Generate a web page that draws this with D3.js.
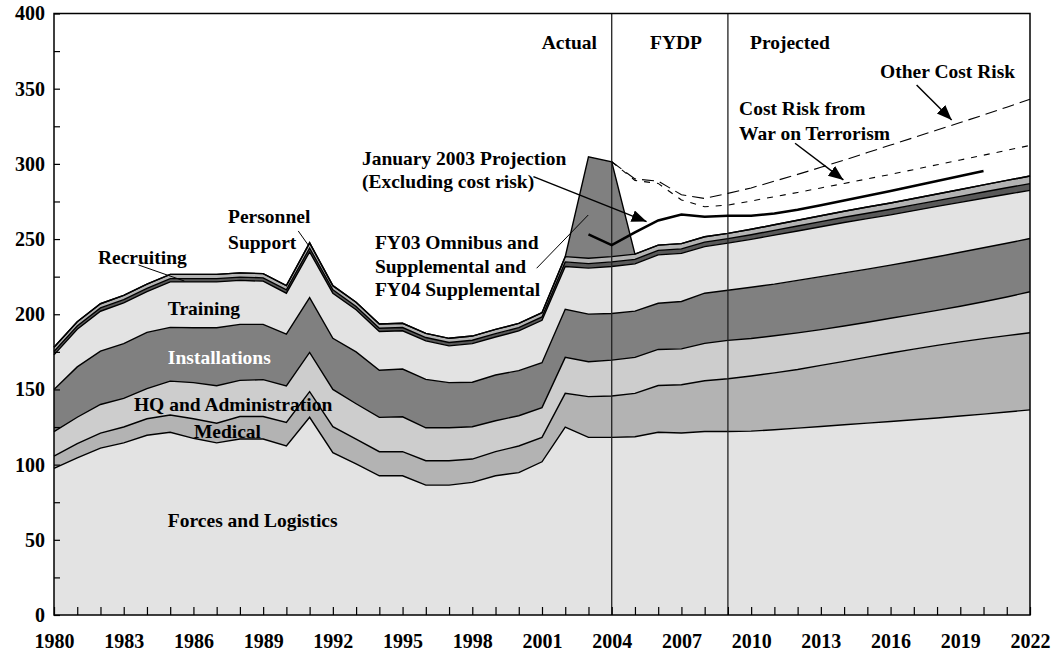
<!DOCTYPE html>
<meta charset="utf-8">
<script src="https://d3js.org/d3.v7.min.js"></script>
<style>
  body { margin: 0; background: #fff; }
  text { font-family: "Liberation Serif", "Times New Roman", serif; font-weight: bold; }
</style>
<svg id="chart" width="1053" height="652"></svg>
<script>

// Fiscal years on the x axis
var years = [1980, 1981, 1982, 1983, 1984, 1985, 1986, 1987, 1988, 1989,
  1990, 1991, 1992, 1993, 1994, 1995, 1996, 1997, 1998, 1999,
  2000, 2001, 2002, 2003, 2004, 2005, 2006, 2007, 2008, 2009,
  2010, 2011, 2012, 2013, 2014, 2015, 2016, 2017, 2018, 2019,
  2020, 2021, 2022];

// Stacked layers (billions), bottom to top
var forces = [97.5, 104.5, 111, 114.5, 119.5, 121.5, 117.5, 114.5, 117, 117,
  112.5, 131.5, 108, 100.5, 92.6, 92.6, 86.4, 86.4, 88.2, 92.6,
  94.7, 101.9, 125, 118.1, 118.1, 118.5, 121.5, 121, 122, 122,
  122.3, 123.2, 124.3, 125.4, 126.5, 127.6, 128.7, 129.8, 131, 132.3,
  133.6, 135, 136.4];
var medical = [8.2, 9.5, 10, 10.5, 11, 11.5, 13, 13, 15, 15,
  15.5, 17, 17.2, 16.5, 16, 16, 16.2, 16.2, 15.5, 16,
  17.7, 16.2, 22.4, 27.1, 27.5, 28.9, 31.1, 32.1, 33.8, 35.1,
  36.6, 37.8, 39, 40.6, 42.2, 43.9, 45.5, 47, 48.3, 49.3,
  50.2, 50.8, 51.3];
var hqAdmin = [16.2, 17.5, 19, 19, 20, 22.5, 24, 25, 24, 24.5,
  24.3, 26.1, 24.8, 23.5, 22.8, 23.2, 21.9, 21.9, 21.5, 20.6,
  20.1, 19.8, 23.9, 23.2, 23.9, 23.9, 24, 23.9, 24.8, 25.5,
  25, 24.7, 24.3, 23.8, 23.5, 23.2, 23.1, 23.1, 23.3, 23.7,
  24.5, 25.7, 27.3];
var installations = [28.1, 33.5, 35.5, 36.5, 37.5, 35.8, 36.5, 38.5, 37.3, 36.8,
  34.5, 36.4, 34, 34.5, 31.4, 31.8, 32.2, 30, 29.6, 30.4,
  30, 29.9, 32, 31.7, 31, 30.8, 30.7, 31.5, 33.4, 33.4,
  34.1, 34.3, 34.9, 35.2, 35.3, 35.3, 35.4, 35.5, 35.6, 35.9,
  35.9, 35.7, 35.4];
var training = [23, 25, 26.5, 27, 27, 30.2, 30.5, 30.5, 29.2, 28.7,
  27.2, 30.5, 30, 28, 25.7, 25.4, 25.6, 24.5, 25.7, 25.3,
  26.4, 28.2, 28.5, 30.6, 31.3, 31.4, 32.2, 32, 31, 31.3,
  31.8, 32.6, 32.9, 33.2, 33.5, 33.6, 33.4, 33.5, 33.5, 33.2,
  32.9, 32.6, 32];
var recruiting = [2.2, 2.2, 2.2, 2.2, 2.2, 2.2, 2.2, 2.2, 2.2, 2.2,
  2.2, 2.5, 2.2, 2.2, 2.2, 2.2, 2.2, 2.2, 2.2, 2.2,
  2.2, 2.2, 3, 3, 3, 3, 3, 3, 3, 3,
  3.1, 3.2, 3.3, 3.4, 3.5, 3.6, 3.7, 3.8, 3.9, 4,
  4.2, 4.3, 4.5];
var personnel = [2.8, 2.8, 2.8, 2.8, 2.8, 2.8, 2.8, 2.8, 2.8, 2.8,
  2.8, 3.5, 2.8, 2.8, 2.8, 2.8, 2.8, 2.8, 2.8, 2.8,
  2.8, 2.8, 3.5, 3.5, 3.5, 3.5, 3.5, 3.5, 3.5, 3.5,
  3.6, 3.7, 3.8, 3.9, 4, 4.1, 4.2, 4.3, 4.4, 4.6,
  4.7, 4.9, 5];
var omnibus = [0, 0, 0, 0, 0, 0, 0, 0, 0, 0,
  0, 0, 0, 0, 0, 0, 0, 0, 0, 0,
  0, 0, 0, 67.5, 63, 0, 0, 0, 0, 0,
  0, 0, 0, 0, 0, 0, 0, 0, 0, 0,
  0, 0, 0];

// January 2003 projection (solid line)
var projYears = [2003, 2004, 2005, 2006, 2007, 2008, 2009, 2010, 2011, 2012,
  2013, 2014, 2015, 2016, 2017, 2018, 2019, 2020];
var projection = [253.1, 246, 254.4, 262.4, 266.3, 264.8, 265.5, 265.5, 267, 269.5,
  272.5, 275.7, 278.8, 282, 285.3, 288.6, 292, 295.2];

// Cost risk lines (dashed)
var riskYears = [2004, 2005, 2006, 2007, 2008, 2009, 2010, 2011, 2012, 2013,
  2014, 2015, 2016, 2017, 2018, 2019, 2020, 2021, 2022];
var otherRisk = [301.4, 290, 288.5, 279.5, 277, 280.4, 284, 288.5, 293, 297.7,
  302.5, 307.5, 312.5, 317.5, 322.5, 327.5, 332.5, 337.7, 343];
var warRisk = [301.4, 289, 287, 276, 271.5, 272.6, 275.3, 278.2, 281, 284,
  287, 290, 293, 296.2, 299.4, 302.6, 305.8, 309, 312.3];

var phaseBreaks = [2004, 2009];
var yTicks = [0, 50, 100, 150, 200, 250, 300, 350, 400];

var svg = d3.select("#chart");

var x = d3.scaleLinear().domain([1980, 2022]).range([54, 1030]);
var y = d3.scaleLinear().domain([0, 400]).range([615, 13.5]);

var keys = ["forces", "medical", "hq", "installations", "training", "recruiting", "personnel", "omnibus"];
var fills = {
  forces: "#e3e3e3", medical: "#b3b3b3", hq: "#cdcdcd", installations: "#808080",
  training: "#e3e3e3", recruiting: "#595959", personnel: "#b3b3b3", omnibus: "#808080"
};

var table = years.map(function(yr, i) {
  return {
    year: yr, forces: forces[i], medical: medical[i], hq: hqAdmin[i],
    installations: installations[i], training: training[i],
    recruiting: recruiting[i], personnel: personnel[i], omnibus: omnibus[i]
  };
});

var series = d3.stack().keys(keys)(table);

var area = d3.area()
  .x(function(d) { return x(d.data.year); })
  .y0(function(d) { return y(d[0]); })
  .y1(function(d) { return y(d[1]); });

var topLine = d3.line()
  .x(function(d) { return x(d.data.year); })
  .y(function(d) { return y(d[1]); });

// layers
svg.append("g")
  .selectAll("path")
  .data(series)
  .join("path")
    .attr("d", area)
    .attr("fill", function(d) { return fills[d.key]; });

// layer outlines
svg.append("g")
  .selectAll("path")
  .data(series)
  .join("path")
    .attr("d", topLine)
    .attr("fill", "none")
    .attr("stroke", "#000")
    .attr("stroke-width", 1.4);

// phase separators
svg.append("g")
  .selectAll("line")
  .data(phaseBreaks)
  .join("line")
    .attr("x1", function(d) { return x(d); })
    .attr("x2", function(d) { return x(d); })
    .attr("y1", y(400))
    .attr("y2", y(0))
    .attr("stroke", "#222")
    .attr("stroke-width", 1.3);

// cost risk + projection lines
var riskLine = d3.line()
  .x(function(d, i) { return x(riskYears[i]); })
  .y(function(d) { return y(d); });

svg.append("path")
  .attr("d", riskLine(otherRisk))
  .attr("fill", "none").attr("stroke", "#000")
  .attr("stroke-width", 1.1).attr("stroke-dasharray", "12,6");

svg.append("path")
  .attr("d", riskLine(warRisk))
  .attr("fill", "none").attr("stroke", "#000")
  .attr("stroke-width", 1.1).attr("stroke-dasharray", "6,7");

var projLine = d3.line()
  .x(function(d, i) { return x(projYears[i]); })
  .y(function(d) { return y(d); });

svg.append("path")
  .attr("d", projLine(projection))
  .attr("fill", "none").attr("stroke", "#000")
  .attr("stroke-width", 2.6);

// axes
var xAxis = d3.axisBottom(x)
  .tickValues(years)
  .tickSize(-8)
  .tickSizeOuter(0)
  .tickPadding(19)
  .tickFormat(function(d) { return (d - 1980) % 3 === 0 ? d : ""; });

svg.append("g")
  .attr("transform", "translate(0," + y(0) + ")")
  .call(xAxis)
  .call(function(g) {
    g.select(".domain").remove();
    g.selectAll("line").attr("stroke", "#000").attr("stroke-width", 1.2);
    g.selectAll("text").attr("font-size", 20).attr("fill", "#000")
      .attr("font-family", "Liberation Serif, Times New Roman, serif").attr("font-weight", "bold");
  });

var yAxis = d3.axisLeft(y)
  .tickValues(d3.range(0, 401, 25))
  .tickSize(-6)
  .tickSizeOuter(0)
  .tickPadding(9)
  .tickFormat(function(d) { return yTicks.indexOf(d) >= 0 ? d : ""; });

svg.append("g")
  .attr("transform", "translate(" + x(1980) + ",0)")
  .call(yAxis)
  .call(function(g) {
    g.select(".domain").remove();
    g.selectAll("line").attr("stroke", "#000").attr("stroke-width", 1.2);
    g.selectAll("text").attr("font-size", 20).attr("fill", "#000")
      .attr("font-family", "Liberation Serif, Times New Roman, serif").attr("font-weight", "bold");
  });

// frame
svg.append("rect")
  .attr("x", x(1980)).attr("y", y(400))
  .attr("width", x(2022) - x(1980)).attr("height", y(0) - y(400))
  .attr("fill", "none").attr("stroke", "#000").attr("stroke-width", 1.5);

// arrowhead
svg.append("defs").append("marker")
  .attr("id", "head")
  .attr("markerUnits", "userSpaceOnUse")
  .attr("markerWidth", 16).attr("markerHeight", 14)
  .attr("refX", 15).attr("refY", 6)
  .attr("orient", "auto")
  .append("path")
    .attr("d", "M0,0 L15,6 L0,12 Z")
    .attr("fill", "#000");

// annotation pointers, in data units [year, value]
var pointers = [
  { from: [1983.63, 232.8], to: [1985.61, 222.1], arrow: false },
  { from: [1990.51, 255.4], to: [1990.94, 246], arrow: false },
  { from: [2000.77, 230.6], to: [2002.99, 266], arrow: false },
  { from: [2000.63, 291.5], to: [2005.5, 261.6], arrow: true },
  { from: [2011.89, 313.7], to: [2013.97, 289.3], arrow: true },
  { from: [2017.12, 352.5], to: [2018.63, 329.2], arrow: true }
];

svg.append("g")
  .selectAll("line")
  .data(pointers)
  .join("line")
    .attr("x1", function(d) { return x(d.from[0]); })
    .attr("y1", function(d) { return y(d.from[1]); })
    .attr("x2", function(d) { return x(d.to[0]); })
    .attr("y2", function(d) { return y(d.to[1]); })
    .attr("stroke", "#000")
    .attr("stroke-width", function(d) { return d.arrow ? 1.5 : 1; })
    .attr("marker-end", function(d) { return d.arrow ? "url(#head)" : null; });

// text labels, anchored at [year, value] of their left baseline
var labels = [
  { t: "Actual", p: [2000.99, 376.4] },
  { t: "FYDP", p: [2005.65, 376.4] },
  { t: "Projected", p: [2009.95, 376.4] },
  { t: "Other Cost Risk", p: [2015.55, 356.9] },
  { t: "Cost Risk from", p: [2009.48, 332.5] },
  { t: "War on Terrorism", p: [2009.48, 315.9] },
  { t: "January 2003 Projection", p: [1993.25, 299.3] },
  { t: "(Excluding cost risk)", p: [1993.25, 284.1] },
  { t: "FY03 Omnibus and", p: [1993.81, 243.1] },
  { t: "Supplemental and", p: [1993.81, 227.4] },
  { t: "FY04 Supplemental", p: [1993.81, 212] },
  { t: "Personnel", p: [1987.49, 260.9] },
  { t: "Support", p: [1987.49, 243.1] },
  { t: "Recruiting", p: [1981.89, 233.4] },
  { t: "Training", p: [1984.9, 199.5] },
  { t: "Installations", p: [1984.9, 166.7], white: true },
  { t: "HQ and Administration", p: [1983.44, 135.8] },
  { t: "Medical", p: [1986.02, 117.5] },
  { t: "Forces and Logistics", p: [1984.9, 58.5] }
];

svg.append("g")
  .selectAll("text")
  .data(labels)
  .join("text")
    .attr("x", function(d) { return x(d.p[0]); })
    .attr("y", function(d) { return y(d.p[1]); })
    .attr("font-size", 19.5)
    .attr("fill", function(d) { return d.white ? "#fff" : "#000"; })
    .text(function(d) { return d.t; });

</script>
